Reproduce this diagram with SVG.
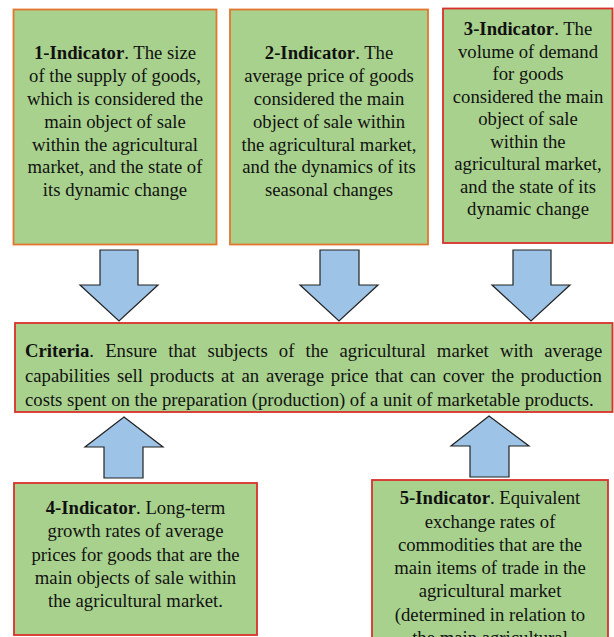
<svg xmlns="http://www.w3.org/2000/svg" width="614" height="637" viewBox="0 0 614 637">
<style>
.box{fill:#A9D18E;stroke-width:1.8}
.or{stroke:#E2762E}
.rd{stroke:#D9302B}
.t{font-family:"Liberation Serif","Times New Roman",serif;font-size:18.7px;fill:#111;text-anchor:middle}
.tl{text-anchor:start}
.b{font-weight:bold}
.arr{fill:#9DC3E6;stroke:#222;stroke-width:1.2;stroke-linejoin:miter}
</style>
<rect width="614" height="637" fill="#fff"/>
<g id="indicator1">
<rect class="box or" x="13.5" y="9.5" width="203" height="235"/>
<text class="t" x="115"><tspan x="115" y="59"><tspan class="b">1-Indicator</tspan>. The size</tspan><tspan x="115" y="82">of the supply of goods,</tspan><tspan x="115" y="105">which is considered the</tspan><tspan x="115" y="128">main object of sale</tspan><tspan x="115" y="151">within the agricultural</tspan><tspan x="115" y="173">market, and the state of</tspan><tspan x="115" y="196">its dynamic change</tspan></text>
</g>
<g id="indicator2">
<rect class="box or" x="230" y="9.5" width="198" height="235"/>
<text class="t" x="329"><tspan x="329" y="59"><tspan class="b">2-Indicator</tspan>. The</tspan><tspan x="329" y="82">average price of goods</tspan><tspan x="329" y="105">considered the main</tspan><tspan x="329" y="128">object of sale within</tspan><tspan x="329" y="151">the agricultural market,</tspan><tspan x="329" y="173">and the dynamics of its</tspan><tspan x="329" y="196">seasonal changes</tspan></text>
</g>
<g id="indicator3">
<rect class="box rd" x="443" y="8.5" width="169.5" height="234.5"/>
<text class="t" x="528"><tspan x="528" y="35"><tspan class="b">3-Indicator</tspan>. The</tspan><tspan x="528" y="57.5">volume of demand</tspan><tspan x="528" y="80">for goods</tspan><tspan x="528" y="102.5">considered the main</tspan><tspan x="528" y="125">object of sale</tspan><tspan x="528" y="147.5">within the</tspan><tspan x="528" y="170">agricultural market,</tspan><tspan x="528" y="192.5">and the state of its</tspan><tspan x="528" y="215">dynamic change</tspan></text>
</g>
<g id="criteria">
<rect class="box rd" x="15" y="323" width="597.5" height="89"/>
<text class="t tl" x="25" y="357" style="word-spacing:6.5px"><tspan class="b">Criteria</tspan>. Ensure that subjects of the agricultural market with average</text>
<text class="t tl" x="25" y="382" style="word-spacing:2.2px">capabilities sell products at an average price that can cover the production</text>
<text class="t tl" x="25" y="406">costs spent on the preparation (production) of a unit of marketable products.</text>
</g>
<g id="indicator4">
<rect class="box rd" x="14" y="483" width="243" height="152"/>
<text class="t" x="135.5"><tspan x="135.5" y="514"><tspan class="b">4-Indicator</tspan>. Long-term</tspan><tspan x="135.5" y="537">growth rates of average</tspan><tspan x="135.5" y="560.5">prices for goods that are the</tspan><tspan x="135.5" y="584">main objects of sale within</tspan><tspan x="135.5" y="607">the agricultural market.</tspan></text>
</g>
<g id="indicator5">
<rect class="box rd" x="372" y="480" width="236" height="170"/>
<text class="t" x="490"><tspan x="490" y="504"><tspan class="b">5-Indicator</tspan>. Equivalent</tspan><tspan x="490" y="527.5">exchange rates of</tspan><tspan x="490" y="550.5">commodities that are the</tspan><tspan x="490" y="574">main items of trade in the</tspan><tspan x="490" y="597">agricultural market</tspan><tspan x="490" y="620.5">(determined in relation to</tspan><tspan x="490" y="644">the main agricultural</tspan></text>
</g>
<g id="connectors">
<polygon class="arr" points="100,250 138,250 138,285 158,285 119,321 80,285 100,285"/>
<polygon class="arr" points="320,250 359,250 359,285 378,285 339,321 300,285 320,285"/>
<polygon class="arr" points="513,250 551,250 551,285 570,285 531,321 492,285 513,285"/>
<polygon class="arr" points="124,417 163,447 143,447 143,478 104,478 104,447 85,447"/>
<polygon class="arr" points="489,416 529,446 509,446 509,477 470,477 470,446 451,446"/>
</g>
</svg>
